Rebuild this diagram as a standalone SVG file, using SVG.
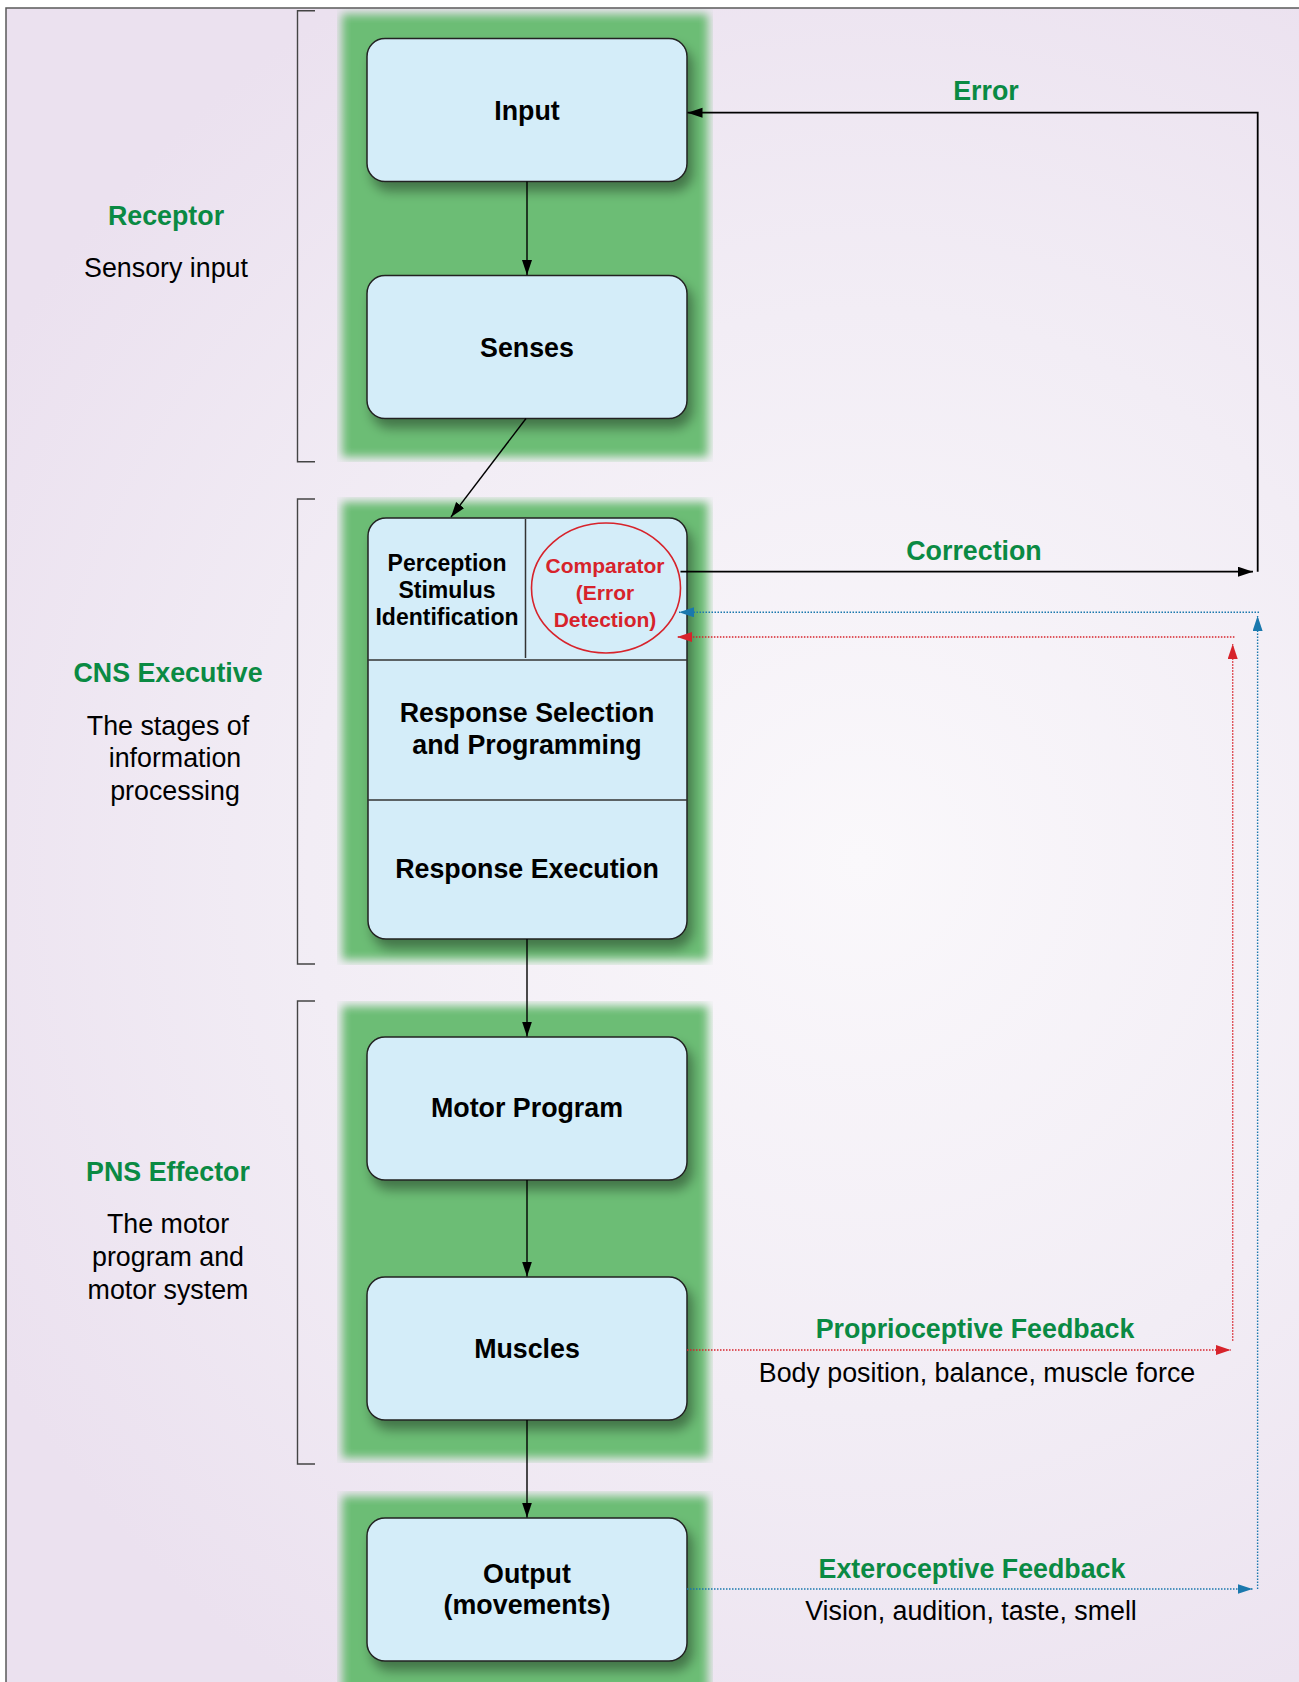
<svg xmlns="http://www.w3.org/2000/svg" width="1299" height="1682" viewBox="0 0 1299 1682">
<defs>
<radialGradient id="bg" cx="860" cy="860" r="1000" gradientUnits="userSpaceOnUse">
<stop offset="0" stop-color="#faf8fb"/>
<stop offset="0.55" stop-color="#f2edf5"/>
<stop offset="1" stop-color="#ebe1ef"/>
</radialGradient>
<filter id="soft" x="-10%" y="-10%" width="120%" height="120%">
<feGaussianBlur stdDeviation="5"/>
</filter>
<filter id="shadow" x="-10%" y="-10%" width="130%" height="130%">
<feDropShadow dx="5" dy="9" stdDeviation="6" flood-color="#000" flood-opacity="0.38"/>
</filter>
<clipPath id="bandclip">
<rect x="337" y="9" width="376" height="453"/>
<rect x="337" y="497" width="376" height="468"/>
<rect x="337" y="1001" width="376" height="462"/>
<rect x="337" y="1491" width="376" height="200"/>
</clipPath>
<marker id="ab" markerUnits="userSpaceOnUse" markerWidth="16" markerHeight="11" refX="15" refY="5" orient="auto"><path d="M0,0 L15,5 L0,10 z" fill="#000"/></marker>
<marker id="abl" markerUnits="userSpaceOnUse" markerWidth="16" markerHeight="11" refX="15" refY="5" orient="auto"><path d="M0,0 L15,5 L0,10 z" fill="#1a78ad"/></marker>
<marker id="arr" markerUnits="userSpaceOnUse" markerWidth="16" markerHeight="11" refX="15" refY="5" orient="auto"><path d="M0,0 L15,5 L0,10 z" fill="#d7232b"/></marker>
<style>
.box{fill:#d4edf9;stroke:#222;stroke-width:1.5}
.div{stroke:#333;stroke-width:1.5;fill:none}
.bt{font-family:"Liberation Sans",Arial,sans-serif;font-weight:bold;font-size:26.8px;fill:#000;text-anchor:middle}
.sm{font-size:23px}
.rd{font-family:"Liberation Sans",Arial,sans-serif;font-weight:bold;font-size:21px;fill:#d7232b;text-anchor:middle}
.gl{font-family:"Liberation Sans",Arial,sans-serif;font-weight:bold;font-size:26.8px;fill:#0a8a43;text-anchor:middle}
.nl{font-family:"Liberation Sans",Arial,sans-serif;font-size:26.8px;fill:#000;text-anchor:middle}
.br{fill:none;stroke:#444;stroke-width:1.4}
.k{stroke:#000;stroke-width:1.4;fill:none}
.k2{stroke:#000;stroke-width:1.8;fill:none}
.bl{stroke:#1a78ad;stroke-width:1.4;stroke-dasharray:1.5 1.5;fill:none}
.rl{stroke:#d7232b;stroke-width:1.4;stroke-dasharray:1.5 1.5;fill:none}
</style>
</defs>
<rect x="0" y="0" width="1299" height="1682" fill="#fff"/>
<rect x="6" y="8" width="1300" height="1690" fill="url(#bg)" stroke="#5a5a5a" stroke-width="1.5"/>

<g id="bands" clip-path="url(#bandclip)">
<g filter="url(#soft)" fill="#6cbd74">
<rect x="342" y="14" width="366" height="443"/>
<rect x="342" y="502" width="366" height="458"/>
<rect x="342" y="1006" width="366" height="452"/>
<rect x="342" y="1496" width="366" height="200"/>
</g>
</g>

<g id="brackets">
<path class="br" d="M315,10.7 H297.5 V461.7 H315"/>
<path class="br" d="M315,499 H297.5 V964 H315"/>
<path class="br" d="M315,1001 H297.5 V1464 H315"/>
</g>

<g id="labels">
<text class="gl" x="166" y="225">Receptor</text>
<text class="nl" x="166" y="277">Sensory input</text>
<text class="gl" x="168" y="682">CNS Executive</text>
<text class="nl" x="168" y="735">The stages of</text>
<text class="nl" x="175" y="767">information</text>
<text class="nl" x="175" y="800">processing</text>
<text class="gl" x="168" y="1181">PNS Effector</text>
<text class="nl" x="168" y="1233">The motor</text>
<text class="nl" x="168" y="1266">program and</text>
<text class="nl" x="168" y="1299">motor system</text>
</g>

<g id="node-input"><rect class="box" filter="url(#shadow)" x="367" y="38.5" width="320" height="143" rx="18"/><text class="bt" x="527" y="120">Input</text></g>
<g id="node-senses"><rect class="box" filter="url(#shadow)" x="367" y="275.5" width="320" height="143" rx="18"/><text class="bt" x="527" y="357">Senses</text></g>
<g id="node-cns">
<rect class="box" filter="url(#shadow)" x="368" y="518" width="319" height="421" rx="18"/>
<line class="div" x1="525.5" y1="519" x2="525.5" y2="658"/>
<line class="div" x1="368" y1="660" x2="687" y2="660"/>
<line class="div" x1="368" y1="800" x2="687" y2="800"/>
<text class="bt sm" x="447" y="571">Perception</text>
<text class="bt sm" x="447" y="598">Stimulus</text>
<text class="bt sm" x="447" y="625">Identification</text>
<ellipse cx="606" cy="588" rx="74.5" ry="65" fill="none" stroke="#d7232b" stroke-width="1.6"/>
<text class="rd" x="605" y="573">Comparator</text>
<text class="rd" x="605" y="600">(Error</text>
<text class="rd" x="605" y="627">Detection)</text>
<text class="bt" x="527" y="722">Response Selection</text>
<text class="bt" x="527" y="754">and Programming</text>
<text class="bt" x="527" y="878">Response Execution</text>
</g>
<g id="node-motor"><rect class="box" filter="url(#shadow)" x="367" y="1037" width="320" height="143" rx="18"/><text class="bt" x="527" y="1117">Motor Program</text></g>
<g id="node-muscles"><rect class="box" filter="url(#shadow)" x="367" y="1277" width="320" height="143" rx="18"/><text class="bt" x="527" y="1358">Muscles</text></g>
<g id="node-output"><rect class="box" filter="url(#shadow)" x="367" y="1518" width="320" height="143" rx="18"/><text class="bt" x="527" y="1583">Output</text><text class="bt" x="527" y="1614">(movements)</text></g>

<g id="connectors">
<line class="k" x1="527" y1="181.5" x2="527" y2="275" marker-end="url(#ab)"/>
<line class="k" x1="526" y1="418.5" x2="451" y2="517" marker-end="url(#ab)"/>
<line class="k" x1="527" y1="939" x2="527" y2="1036.5" marker-end="url(#ab)"/>
<line class="k" x1="527" y1="1180" x2="527" y2="1276.5" marker-end="url(#ab)"/>
<line class="k" x1="527" y1="1420" x2="527" y2="1517.5" marker-end="url(#ab)"/>
<polyline class="k2" points="1257.7,571.7 1257.7,112.7 687.5,112.7" marker-end="url(#ab)"/>
<line class="k2" x1="680.5" y1="571.7" x2="1253" y2="571.7" marker-end="url(#ab)"/>
<line class="bl" x1="1259" y1="612.3" x2="679" y2="612.3" marker-end="url(#abl)"/>
<line class="bl" x1="1257.6" y1="1589" x2="1257.6" y2="616" marker-end="url(#abl)"/>
<line class="bl" x1="687" y1="1589" x2="1252.5" y2="1589" marker-end="url(#abl)"/>
<line class="rl" x1="1234.4" y1="637" x2="677" y2="637" marker-end="url(#arr)"/>
<line class="rl" x1="1232.7" y1="1340.7" x2="1232.7" y2="644" marker-end="url(#arr)"/>
<line class="rl" x1="687" y1="1350" x2="1230.7" y2="1350" marker-end="url(#arr)"/>
</g>

<g id="connector-labels">
<text class="gl" x="986" y="100">Error</text>
<text class="gl" x="974" y="560">Correction</text>
<text class="gl" x="975" y="1338">Proprioceptive Feedback</text>
<text class="nl" x="977" y="1382">Body position, balance, muscle force</text>
<text class="gl" x="972" y="1578">Exteroceptive Feedback</text>
<text class="nl" x="971" y="1620">Vision, audition, taste, smell</text>
</g>
</svg>
